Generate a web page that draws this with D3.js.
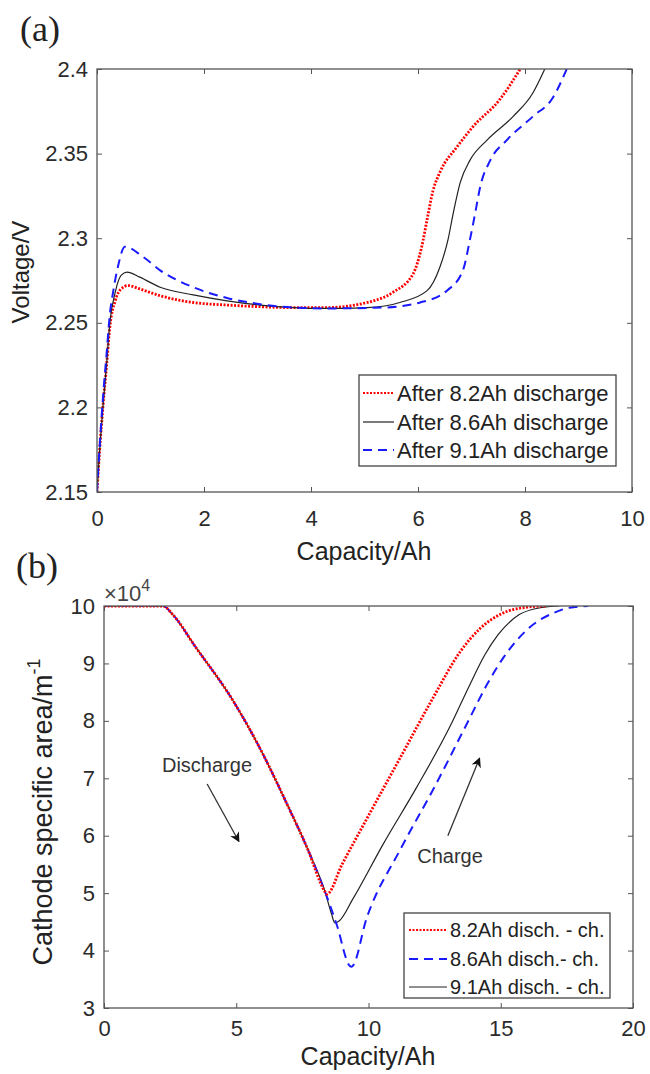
<!DOCTYPE html>
<html>
<head>
<meta charset="utf-8">
<script src="https://cdn.jsdelivr.net/npm/d3@7"></script>
<style>
  body { margin: 0; background: #fff; }
  svg { display: block; font-family: Arial, "Liberation Sans", sans-serif; }
  .tick text { fill: #2b2b2b; }
</style>
</head>
<body>
<svg id="chart" width="650" height="1074"></svg>
<script>
// ---- data, panel (a): voltage vs capacity ----
var capA82 = [0, 0.05, 0.11, 0.18, 0.24, 0.34, 0.45, 0.58, 0.8, 1.18, 1.8, 2.43, 3.05, 3.67, 4.3, 5.05, 5.53, 5.91, 6.07, 6.17, 6.28, 6.41, 6.73, 7.03, 7.53, 7.91];
var voltA82 = [2.15, 2.175, 2.2, 2.225, 2.2475, 2.263, 2.27, 2.272, 2.27, 2.266, 2.262, 2.2605, 2.2595, 2.259, 2.259, 2.262, 2.268, 2.279, 2.295, 2.311, 2.328, 2.339, 2.354, 2.366, 2.382, 2.40];
var capA86 = [0, 0.05, 0.11, 0.18, 0.24, 0.34, 0.45, 0.56, 0.8, 1.18, 1.8, 2.43, 3.05, 3.67, 4.3, 5.05, 5.66, 6.17, 6.41, 6.56, 6.66, 6.79, 6.97, 7.29, 7.78, 8.15, 8.37];
var voltA86 = [2.15, 2.175, 2.2, 2.226, 2.25, 2.268, 2.278, 2.28, 2.277, 2.271, 2.2665, 2.263, 2.2605, 2.259, 2.2585, 2.259, 2.262, 2.269, 2.283, 2.299, 2.315, 2.333, 2.346, 2.358, 2.372, 2.386, 2.40];
var capA91 = [0, 0.05, 0.11, 0.18, 0.24, 0.3, 0.39, 0.52, 0.86, 1.18, 1.8, 2.43, 3.05, 3.67, 4.3, 5.35, 6.04, 6.54, 6.84, 6.97, 7.07, 7.16, 7.35, 7.66, 8.15, 8.52, 8.78];
var voltA91 = [2.15, 2.177, 2.205, 2.232, 2.255, 2.268, 2.283, 2.295, 2.289, 2.281, 2.271, 2.2647, 2.261, 2.259, 2.2585, 2.259, 2.262, 2.269, 2.281, 2.299, 2.315, 2.33, 2.346, 2.358, 2.372, 2.383, 2.40];
var legendA = ["After 8.2Ah discharge", "After 8.6Ah discharge", "After 9.1Ah discharge"];
var xTicksA = [0, 2, 4, 6, 8, 10];
var yTicksA = [2.15, 2.2, 2.25, 2.3, 2.35, 2.4];

// ---- data, panel (b): cathode specific area (x 10^4) vs capacity ----
var capB82 = [0, 2.23, 2.6, 3.44, 4.88, 6.01, 6.92, 7.67, 8.36, 8.42, 9.0, 9.94, 11.19, 12.44, 13.46, 14.2, 15.1, 16.0, 16.7];
var areaB82 = [10, 10, 9.85, 9.3, 8.35, 7.42, 6.55, 5.8, 5.02, 4.98, 5.5, 6.3, 7.35, 8.4, 9.2, 9.6, 9.88, 9.98, 10];
var capB86 = [0, 2.23, 2.6, 3.44, 4.88, 6.01, 6.92, 7.67, 8.36, 8.8, 9.3, 9.36, 9.94, 11.19, 12.44, 13.72, 14.5, 15.1, 16.1, 17.0, 17.6, 18.3];
var areaB86 = [10, 10, 9.85, 9.3, 8.35, 7.42, 6.55, 5.8, 5.02, 4.45, 3.73, 3.72, 4.58, 5.75, 6.8, 7.95, 8.65, 9.1, 9.63, 9.88, 9.97, 10];
var capB91 = [0, 2.23, 2.6, 3.44, 4.88, 6.01, 6.92, 7.67, 8.36, 8.6, 8.73, 8.9, 9.41, 10.55, 11.83, 13.08, 13.8, 14.4, 14.9, 15.7, 16.5, 17.2];
var areaB91 = [10, 10, 9.85, 9.3, 8.35, 7.42, 6.55, 5.8, 5.02, 4.64, 4.48, 4.52, 4.9, 5.85, 6.85, 7.9, 8.6, 9.15, 9.5, 9.85, 9.97, 10];
var legendB = ["8.2Ah disch. - ch.", "8.6Ah disch.- ch.", "9.1Ah disch. - ch."];
var xTicksB = [0, 5, 10, 15, 20];
var yTicksB = [3, 4, 5, 6, 7, 8, 9, 10];

// line styles
var redStyle = { color: "#ff0000", width: 2.8, dash: "2,1.5" };
var blackStyle = { color: "#222", width: 1.2, dash: null };
var blueStyle = { color: "#1a1aff", width: 2, dash: "9,6" };

var svg = d3.select("#chart");

function zip(xs, ys) {
  return xs.map(function (x, i) { return [x, ys[i]]; });
}

function drawFrame(x, y, xTicks, yTicks, xPad, id) {
  var x0 = x.range()[0], x1 = x.range()[1];
  var y0 = y.range()[1], y1 = y.range()[0];
  var g = svg.append("g");

  g.append("g")
    .attr("transform", "translate(0," + y1 + ")")
    .call(d3.axisBottom(x).tickValues(xTicks).tickSize(-5).tickSizeOuter(0).tickPadding(xPad).tickFormat(d3.format("")))
    .call(function (s) { s.select(".domain").remove(); });
  g.append("g")
    .attr("transform", "translate(0," + y0 + ")")
    .call(d3.axisTop(x).tickValues(xTicks).tickSize(-5).tickSizeOuter(0).tickFormat(""))
    .call(function (s) { s.select(".domain").remove(); });
  g.append("g")
    .attr("transform", "translate(" + x0 + ",0)")
    .call(d3.axisLeft(y).tickValues(yTicks).tickSize(-5).tickSizeOuter(0).tickPadding(9).tickFormat(function (d) { return String(+d.toFixed(2)); }))
    .call(function (s) { s.select(".domain").remove(); });
  g.append("g")
    .attr("transform", "translate(" + x1 + ",0)")
    .call(d3.axisRight(y).tickValues(yTicks).tickSize(-5).tickSizeOuter(0).tickFormat(""))
    .call(function (s) { s.select(".domain").remove(); });

  g.selectAll(".tick line").attr("stroke", "#555").attr("stroke-width", 1);
  g.selectAll(".tick text").style("font-size", "22px").attr("font-family", "Arial, 'Liberation Sans', sans-serif");

  svg.append("defs").append("clipPath").attr("id", id)
    .append("rect").attr("x", x0).attr("y", y0).attr("width", x1 - x0).attr("height", y1 - y0);

  return g;
}

function drawBox(x, y) {
  svg.append("rect")
    .attr("x", x.range()[0]).attr("y", y.range()[1])
    .attr("width", x.range()[1] - x.range()[0])
    .attr("height", y.range()[0] - y.range()[1])
    .attr("fill", "none").attr("stroke", "#555").attr("stroke-width", 1.3);
}

function drawSeries(x, y, pts, style, clipId) {
  var line = d3.line()
    .x(function (d) { return x(d[0]); })
    .y(function (d) { return y(d[1]); })
    .curve(d3.curveMonotoneX);
  svg.append("path")
    .datum(pts)
    .attr("clip-path", "url(#" + clipId + ")")
    .attr("d", line)
    .attr("fill", "none")
    .attr("stroke", style.color)
    .attr("stroke-width", style.width)
    .attr("stroke-dasharray", style.dash);
}

function drawLegend(bx, by, bw, bh, rowsY, sampleX0, sampleX1, labels, styles, fs) {
  var g = svg.append("g");
  g.append("rect").attr("x", bx).attr("y", by).attr("width", bw).attr("height", bh)
    .attr("fill", "#fff").attr("stroke", "#444").attr("stroke-width", 1.3);
  labels.forEach(function (lab, i) {
    var st = styles[i];
    g.append("line")
      .attr("x1", sampleX0).attr("x2", sampleX1)
      .attr("y1", rowsY[i]).attr("y2", rowsY[i])
      .attr("stroke", st.color).attr("stroke-width", Math.min(st.width, 2))
      .attr("stroke-dasharray", st.dash);
    g.append("text")
      .attr("x", sampleX1 + 3).attr("y", rowsY[i]).attr("dy", "0.35em")
      .style("font-size", fs + "px").attr("fill", "#222")
      .text(lab);
  });
}

// ---------------- panel (a) ----------------
var xa = d3.scaleLinear().domain([0, 10]).range([97, 632]);
var ya = d3.scaleLinear().domain([2.15, 2.4]).range([492, 69]);

drawFrame(xa, ya, xTicksA, yTicksA, 18, "clipA");
drawSeries(xa, ya, zip(capA82, voltA82), redStyle, "clipA");
drawSeries(xa, ya, zip(capA86, voltA86), blackStyle, "clipA");
drawSeries(xa, ya, zip(capA91, voltA91), blueStyle, "clipA");
drawBox(xa, ya);
drawLegend(359, 375, 257, 91, [393, 422, 450], 363, 394, legendA, [redStyle, blackStyle, blueStyle], 22);

svg.append("text").attr("x", 40).attr("y", 41)
  .attr("text-anchor", "middle")
  .style("font-family", "'Liberation Serif', 'Times New Roman', serif").style("font-size", "36px")
  .attr("fill", "#222").text("(a)");
svg.append("text").attr("x", 364).attr("y", 560)
  .attr("text-anchor", "middle").style("font-size", "25px").attr("fill", "#222")
  .text("Capacity/Ah");
svg.append("text").attr("transform", "translate(29,272) rotate(-90)")
  .attr("text-anchor", "middle").style("font-size", "24px").attr("fill", "#222")
  .text("Voltage/V");

// ---------------- panel (b) ----------------
var xb = d3.scaleLinear().domain([0, 20]).range([104, 633]);
var yb = d3.scaleLinear().domain([3, 10]).range([1008, 606]);

drawFrame(xb, yb, xTicksB, yTicksB, 12, "clipB");
drawSeries(xb, yb, zip(capB91, areaB91), blackStyle, "clipB");
drawSeries(xb, yb, zip(capB86, areaB86), blueStyle, "clipB");
drawSeries(xb, yb, zip(capB82, areaB82), redStyle, "clipB");
drawBox(xb, yb);
drawLegend(404, 913, 206, 85, [930, 959, 987], 409, 447, legendB, [redStyle, blueStyle, blackStyle], 20);

svg.append("text").attr("x", 37).attr("y", 578)
  .attr("text-anchor", "middle")
  .style("font-family", "'Liberation Serif', 'Times New Roman', serif").style("font-size", "36px")
  .attr("fill", "#222").text("(b)");

var mult = svg.append("text").attr("x", 104).attr("y", 601).style("font-size", "22px").attr("fill", "#444");
mult.append("tspan").text("\u00d710");
mult.append("tspan").attr("dy", "-10").style("font-size", "16px").text("4");

svg.append("text").attr("x", 368).attr("y", 1065)
  .attr("text-anchor", "middle").style("font-size", "25px").attr("fill", "#222")
  .text("Capacity/Ah");
var ylabB = svg.append("text").attr("transform", "translate(52,812) rotate(-90)")
  .attr("text-anchor", "middle").style("font-size", "27px").attr("fill", "#222");
ylabB.append("tspan").text("Cathode specific area/m");
ylabB.append("tspan").attr("dy", "-12").style("font-size", "18px").text("-1");

// annotations with arrows
svg.append("defs").append("marker")
  .attr("id", "arrow").attr("viewBox", "0 0 10 10").attr("refX", 9).attr("refY", 5)
  .attr("markerWidth", 10).attr("markerHeight", 10).attr("markerUnits", "userSpaceOnUse").attr("orient", "auto")
  .append("path").attr("d", "M0,0 L10,5 L0,10 L3,5 Z").attr("fill", "#111");

svg.append("text").attr("x", 207).attr("y", 765).attr("dy", "0.35em")
  .attr("text-anchor", "middle").style("font-size", "20px").attr("fill", "#333").text("Discharge");
svg.append("line").attr("x1", xb(3.9)).attr("y1", yb(6.9)).attr("x2", xb(5.1)).attr("y2", yb(5.9))
  .attr("stroke", "#333").attr("stroke-width", 1.3).attr("marker-end", "url(#arrow)");

svg.append("text").attr("x", 450).attr("y", 856).attr("dy", "0.35em")
  .attr("text-anchor", "middle").style("font-size", "20px").attr("fill", "#333").text("Charge");
svg.append("line").attr("x1", xb(13.0)).attr("y1", yb(6.0)).attr("x2", xb(14.2)).attr("y2", yb(7.35))
  .attr("stroke", "#333").attr("stroke-width", 1.3).attr("marker-end", "url(#arrow)");
</script>
</body>
</html>
